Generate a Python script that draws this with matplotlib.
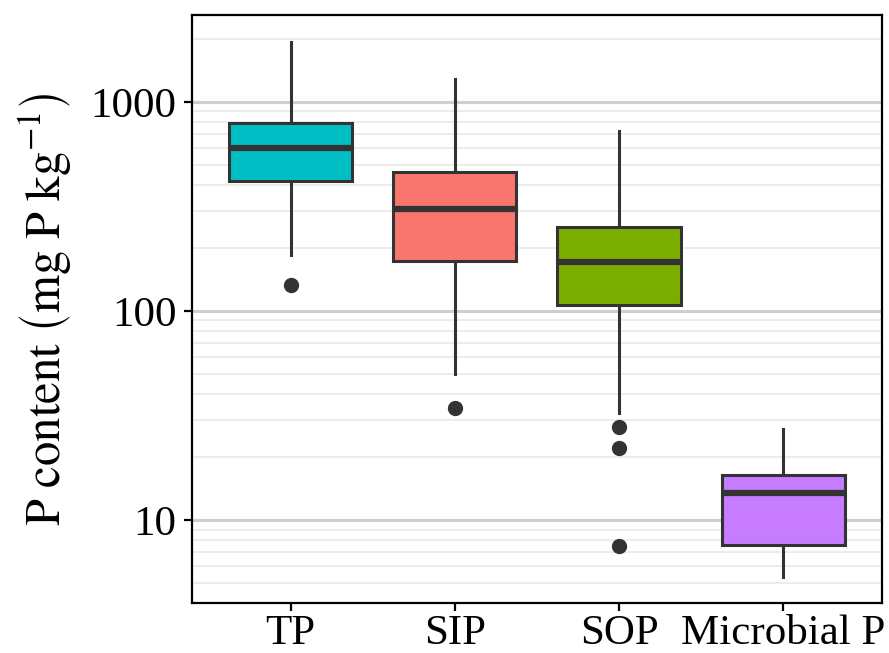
import matplotlib
matplotlib.use("Agg")
import matplotlib.pyplot as plt
from matplotlib.ticker import LogLocator, FixedLocator, NullFormatter
import numpy as np

plt.rcParams['font.family'] = ['Liberation Serif', 'DejaVu Serif']
plt.rcParams['mathtext.fontset'] = 'stix'

categories = ["TP", "SIP", "SOP", "Microbial P"]
colors = ["#00BFC4", "#F8766D", "#7CAE00", "#C77CFF"]
q1 = [419, 173, 107, 7.6]
med = [602, 308, 171, 13.5]
q3 = [794, 462, 252, 16.4]
whislo = [185, 50, 32.5, 5.33]
whishi = [1936, 1288, 727, 27.3]
fliers = [[133], [34.4], [27.9, 22.1, 7.5], []]
yticks = [10, 100, 1000]
ytick_labels = ["10", "100", "1000"]

fig = plt.figure(figsize=(8.89, 6.53), dpi=100)
ax = fig.add_axes([0.216, 0.0766, 0.776, 0.9004])

stats = []
for i, c in enumerate(categories):
    stats.append(dict(label=c, q1=q1[i], med=med[i], q3=q3[i],
                      whislo=whislo[i], whishi=whishi[i], fliers=fliers[i]))

edge = "#333333"
bp = ax.bxp(stats, positions=np.arange(1, len(categories) + 1), widths=0.75,
            patch_artist=True, showcaps=False,
            boxprops=dict(edgecolor=edge, linewidth=2.2),
            whiskerprops=dict(color=edge, linewidth=2.2),
            medianprops=dict(color=edge, linewidth=4.5, solid_capstyle='butt'),
            flierprops=dict(marker='o', markerfacecolor=edge, markeredgecolor=edge,
                            markersize=10, linestyle='none'))
for patch, col in zip(bp['boxes'], colors):
    patch.set_facecolor(col)
    patch.set_zorder(3)
for k in ('medians', 'fliers'):
    for a in bp[k]:
        a.set_zorder(4)
for a in bp['whiskers']:
    a.set_zorder(2)

ax.set_yscale('log')
ax.set_ylim(10 ** 0.603, 10 ** 3.415)
ax.set_xlim(0.4, 4.6)
ax.yaxis.set_major_locator(FixedLocator(yticks))
ax.set_yticklabels(ytick_labels)
ax.yaxis.set_minor_locator(LogLocator(base=10, subs=np.arange(2, 10)))
ax.yaxis.set_minor_formatter(NullFormatter())
ax.set_xticks(np.arange(1, len(categories) + 1))
ax.set_xticklabels(categories)

ax.grid(True, which='major', axis='y', color='#CFCFCF', linewidth=2.2, zorder=0)
ax.grid(True, which='minor', axis='y', color='#EBEBEB', linewidth=1.3, zorder=0)
ax.set_axisbelow(True)

ax.tick_params(axis='both', which='major', length=6, width=1.6, color='black',
               labelsize=31, labelcolor='black', pad=5)
ax.tick_params(axis='x', which='major', pad=2)
ax.tick_params(axis='y', which='minor', length=0)
for s in ax.spines.values():
    s.set_color('black')
    s.set_linewidth(1.6)

ax.set_ylabel(r'$\mathrm{P\ content\ }\left(\mathrm{mg\ P\ kg^{-1}}\right)$',
              fontsize=35, labelpad=12)

fig.savefig("out.png", dpi=100)
